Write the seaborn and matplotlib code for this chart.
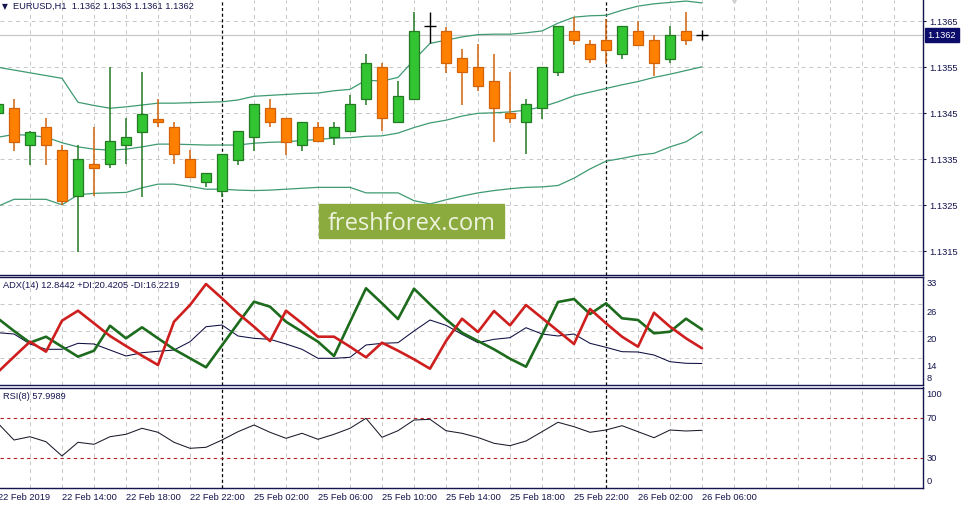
import matplotlib
matplotlib.use("Agg")
import matplotlib.pyplot as plt
from matplotlib.patches import Rectangle
import numpy as np
import pandas as pd
import seaborn as sns

# EURUSD H1, bars from 22 Feb 10:00 to 26 Feb 06:00
open_ = [1.13450, 1.13461, 1.13380, 1.13420, 1.13370, 1.13270, 1.13339, 1.13339, 1.13380, 1.13410,
         1.13438, 1.13420, 1.13350, 1.13300, 1.13280, 1.13349, 1.13399, 1.13461, 1.13439, 1.13380,
         1.13420, 1.13399, 1.13411, 1.13480, 1.13550, 1.13430, 1.13480, 1.13640, 1.13628, 1.13570,
         1.13550, 1.13520, 1.13450, 1.13430, 1.13461, 1.13539, 1.13628, 1.13600, 1.13609, 1.13578,
         1.13628, 1.13609, 1.13569, 1.13628, 1.13620]
high = [1.13475, 1.13481, 1.13412, 1.13439, 1.13380, 1.13380, 1.13420, 1.13550, 1.13439, 1.13539,
        1.13481, 1.13430, 1.13370, 1.13320, 1.13361, 1.13412, 1.13470, 1.13481, 1.13439, 1.13430,
        1.13430, 1.13430, 1.13490, 1.13579, 1.13560, 1.13520, 1.13670, 1.13670, 1.13638, 1.13589,
        1.13601, 1.13579, 1.13540, 1.13481, 1.13550, 1.13639, 1.13659, 1.13609, 1.13655, 1.13639,
        1.13651, 1.13621, 1.13639, 1.13670, 1.13630]
low = [1.13446, 1.13369, 1.13338, 1.13338, 1.13251, 1.13149, 1.13270, 1.13330, 1.13339, 1.13269,
       1.13420, 1.13339, 1.13311, 1.13290, 1.13269, 1.13338, 1.13369, 1.13420, 1.13359, 1.13369,
       1.13389, 1.13380, 1.13411, 1.13469, 1.13411, 1.13430, 1.13480, 1.13602, 1.13538, 1.13468,
       1.13499, 1.13388, 1.13428, 1.13361, 1.13438, 1.13530, 1.13599, 1.13559, 1.13557, 1.13569,
       1.13599, 1.13530, 1.13559, 1.13599, 1.13610]
close = [1.13470, 1.13388, 1.13410, 1.13380, 1.13260, 1.13350, 1.13330, 1.13389, 1.13399, 1.13449,
         1.13430, 1.13361, 1.13311, 1.13320, 1.13361, 1.13411, 1.13470, 1.13430, 1.13388, 1.13430,
         1.13389, 1.13420, 1.13470, 1.13559, 1.13439, 1.13488, 1.13628, 1.13640, 1.13559, 1.13539,
         1.13509, 1.13461, 1.13439, 1.13470, 1.13550, 1.13639, 1.13609, 1.13569, 1.13588, 1.13639,
         1.13599, 1.13559, 1.13620, 1.13609, 1.13620]

bb_upper = [1.13550, 1.13544, 1.13538, 1.13532, 1.13526, 1.13474, 1.13467, 1.13461, 1.13464, 1.13468,
            1.13472, 1.13472, 1.13473, 1.13474, 1.13475, 1.13479, 1.13487, 1.13489, 1.13491, 1.13493,
            1.13494, 1.13499, 1.13502, 1.13522, 1.13520, 1.13528, 1.13566, 1.13602, 1.13609, 1.13616,
            1.13621, 1.13622, 1.13622, 1.13625, 1.13629, 1.13646, 1.13659, 1.13662, 1.13663, 1.13674,
            1.13683, 1.13688, 1.13691, 1.13694, 1.13690]
bb_middle = [1.13398, 1.13404, 1.13402, 1.13398, 1.13386, 1.13377, 1.13372, 1.13370, 1.13372, 1.13377,
             1.13383, 1.13383, 1.13382, 1.13381, 1.13381, 1.13381, 1.13385, 1.13387, 1.13388, 1.13391,
             1.13393, 1.13396, 1.13397, 1.13400, 1.13401, 1.13407, 1.13419, 1.13429, 1.13435, 1.13444,
             1.13450, 1.13451, 1.13453, 1.13457, 1.13464, 1.13475, 1.13488, 1.13496, 1.13504, 1.13512,
             1.13519, 1.13528, 1.13535, 1.13543, 1.13551]
bb_lower = [1.13248, 1.13263, 1.13263, 1.13263, 1.13251, 1.13273, 1.13276, 1.13277, 1.13278, 1.13288,
            1.13296, 1.13296, 1.13291, 1.13285, 1.13285, 1.13283, 1.13282, 1.13283, 1.13285, 1.13287,
            1.13289, 1.13289, 1.13289, 1.13277, 1.13277, 1.13277, 1.13260, 1.13253, 1.13262, 1.13270,
            1.13277, 1.13282, 1.13286, 1.13289, 1.13290, 1.13293, 1.13309, 1.13329, 1.13346, 1.13352,
            1.13359, 1.13363, 1.13377, 1.13388, 1.13410]

adx = [19.69, 19.40, 17.18, 16.00, 16.00, 17.33, 17.18, 15.84, 14.51, 15.24,
       15.56, 15.84, 17.69, 21.02, 21.40, 18.96, 18.44, 18.22, 17.18, 16.00,
       14.00, 14.00, 14.22, 16.96, 17.33, 17.47, 20.07, 22.51, 21.33, 19.33,
       17.47, 18.22, 18.58, 20.80, 19.40, 18.96, 19.40, 17.33, 16.44, 15.47,
       15.40, 14.73, 13.24, 12.89, 12.8442]
plus_di = [22.84, 20.07, 17.47, 18.80, 16.58, 14.36, 15.69, 21.24, 18.44, 20.89,
           18.44, 16.00, 14.00, 12.00, 16.89, 21.78, 26.58, 25.47, 22.13, 19.91,
           17.69, 14.51, 22.07, 29.56, 26.22, 22.73, 29.47, 26.00, 22.67, 19.69,
           17.84, 16.00, 13.91, 12.13, 19.18, 26.51, 27.18, 23.84, 26.22, 22.89,
           22.51, 19.56, 19.91, 22.80, 20.4205]
minus_di = [10.96, 14.36, 17.69, 15.47, 22.36, 24.58, 21.78, 18.96, 16.73, 14.58,
            12.51, 22.13, 25.84, 30.51, 27.33, 24.00, 21.02, 17.84, 24.58, 21.78,
            18.80, 18.80, 16.58, 14.22, 17.47, 15.69, 13.78, 11.69, 17.84, 22.80,
            19.84, 24.51, 21.33, 25.84, 22.96, 20.07, 17.18, 24.96, 21.78, 18.80,
            16.58, 24.13, 21.02, 18.44, 16.2219]
rsi = [65.0, 48.3, 51.6, 46.6, 32.3, 46.0, 44.0, 51.6, 54.0, 60.0,
       56.0, 46.0, 40.0, 41.0, 48.3, 56.6, 63.3, 56.0, 50.0, 55.0,
       49.0, 54.0, 60.0, 70.0, 51.0, 57.6, 68.3, 69.0, 57.6, 55.0,
       50.8, 45.0, 42.6, 47.3, 56.6, 66.0, 61.6, 56.0, 58.3, 62.6,
       56.6, 50.6, 58.3, 57.3, 57.9989]

price_ticks = [1.1315, 1.1325, 1.1335, 1.1345, 1.1355, 1.1365]
adx_grid = [14, 20, 26]
rsi_levels = [70, 30]

times = pd.date_range("2019-02-22 10:00", periods=14, freq="h").append(
    pd.date_range("2019-02-25 00:00", periods=31, freq="h"))

NAVY = "#14144e"
GRID = "#c6c6c6"
BULL, BULL_EDGE = "#33c433", "#237a23"
BEAR, BEAR_EDGE = "#ff8000", "#d2620a"
BAND = "#3f9a72"

W, H = 965, 509
sns.set_style("white")
plt.rcParams["font.family"] = ["Liberation Sans", "DejaVu Sans"]
plt.rcParams["font.size"] = 6.7

fig = plt.figure(figsize=(W / 100, H / 100), dpi=100)


def px_axes(top, bottom, right=922.5):
    return fig.add_axes([0, 1 - bottom / H, right / W, (bottom - top) / H])


ax_main = px_axes(0, 274.5)
ax_adx = px_axes(276.5, 385.3)
ax_rsi = px_axes(387.5, 488)

bars = np.arange(len(close))
df = pd.DataFrame({"bar": bars, "open": open_, "high": high,
                   "low": low, "close": close})
separators = [i for i, t in enumerate(times) if t.hour == 0 and i > 0]
grid_bars = [b for b in range(2, 58, 2) if b not in separators]

for ax in (ax_main, ax_adx, ax_rsi):
    ax.set_facecolor("white")
    ax.set_xlim(0.125, 57.78)
    ax.set_xticks(grid_bars)
    ax.tick_params(axis="x", length=0, labelbottom=False)
    ax.grid(True, axis="x", color=GRID, ls=(0, (4, 4)), lw=0.7)
    ax.set_axisbelow(True)
    for s in ("left",):
        ax.spines[s].set_visible(False)
    for s in ("right", "bottom", "top"):
        ax.spines[s].set_color(NAVY)
        ax.spines[s].set_linewidth(1.0)
    for sep in separators:
        ax.axvline(sep, color="black", lw=0.9, ls=(0, (2.5, 2)), zorder=1)
ax_main.spines["top"].set_visible(False)

# --- price panel
ax = ax_main
ax.set_ylim(1.136963 - 274.5 / 46000, 1.136963)
ax.set_yticks(price_ticks)
ax.set_yticklabels([f"{p:.4f}" for p in price_ticks])
ax.yaxis.tick_right()
ax.tick_params(axis="y", length=2.5, width=0.8, color=NAVY,
               labelcolor=NAVY, labelsize=6.7, pad=2)
ax.grid(True, axis="y", color=GRID, ls=(0, (4, 4)), lw=0.7)
ax.axhline(close[-1], color="#c8c8c8", lw=0.9, zorder=1)

for band in (bb_upper, bb_middle, bb_lower):
    sns.lineplot(x=bars, y=band, ax=ax, color=BAND, lw=0.9, zorder=2)

up = df[df.close > df.open]
down = df[df.close < df.open]
doji = df[df.close == df.open]
for d, fill, edge in ((up, BULL, BULL_EDGE), (down, BEAR, BEAR_EDGE)):
    ax.vlines(d.bar, d.low, d.high, color=edge, lw=1.1, zorder=3)
    ax.bar(d.bar, (d.close - d.open).abs(), bottom=np.minimum(d.open, d.close),
           width=0.62, color=fill, edgecolor=edge, lw=0.9, zorder=4)
ax.vlines(doji.bar, doji.low, doji.high, color="black", lw=1.0, zorder=4)
ax.hlines(doji.open, doji.bar - 0.36, doji.bar + 0.36, color="black", lw=1.0, zorder=4)
ax.plot(46, ax.get_ylim()[1], marker="v", ms=4, color="#d0d0d0", clip_on=False, zorder=5)
ax.set_xlabel("")
ax.set_ylabel("")

ax.annotate(f"{close[-1]:.4f}", xy=(1, close[-1]), xycoords=("axes fraction", "data"),
            xytext=(5, 0), textcoords="offset pixels", va="center", ha="left",
            color="white", fontsize=6.7,
            bbox=dict(boxstyle="square,pad=0.3", fc="#0c0c6a", ec="#0c0c6a"))

# --- ADX panel
ax = ax_adx
ax.set_ylim(8.0, 32.18)
ax.set_yticks(adx_grid)
ax.tick_params(axis="y", length=0, labelleft=False, labelright=False)
ax.grid(True, axis="y", color=GRID, ls=(0, (4, 4)), lw=0.7)
sns.lineplot(x=bars, y=adx, ax=ax, color="#0c0c40", lw=0.75)
sns.lineplot(x=bars, y=plus_di, ax=ax, color="#1d6b1d", lw=1.9)
sns.lineplot(x=bars, y=minus_di, ax=ax, color="#cf1e1e", lw=1.9)
ax.set_xlabel("")
ax.set_ylabel("")
for v in adx_grid:
    ax.annotate(str(v), xy=(1, v), xycoords=("axes fraction", "data"),
                xytext=(4, -8), textcoords="offset pixels", va="center", color=NAVY)
ax.annotate("33", xy=(1, 1), xycoords="axes fraction", xytext=(4, -7),
            textcoords="offset pixels", va="center", color=NAVY)
ax.annotate("8", xy=(1, 0), xycoords="axes fraction", xytext=(4, 6.5),
            textcoords="offset pixels", va="center", color=NAVY)

# --- RSI panel
ax = ax_rsi
ax.set_ylim(0.3, 100.8)
ax.set_yticks([])
for lv in rsi_levels:
    ax.axhline(lv, color="#b42222", lw=0.8, ls=(0, (3, 3)), zorder=1)
sns.lineplot(x=bars, y=rsi, ax=ax, color="#1a1a2a", lw=0.75)
ax.set_xlabel("")
ax.set_ylabel("")
ax.annotate("100", xy=(1, 1), xycoords="axes fraction", xytext=(4, -7),
            textcoords="offset pixels", va="center", color=NAVY)
for lv in rsi_levels:
    ax.annotate(str(lv), xy=(1, lv), xycoords=("axes fraction", "data"),
                xytext=(4, 0), textcoords="offset pixels", va="center", color=NAVY)
ax.annotate("0", xy=(1, 0), xycoords="axes fraction", xytext=(4, 6.5),
            textcoords="offset pixels", va="center", color=NAVY)

for i in range(0, len(times), 4):
    t = times[i]
    label = f"{t:%d %b %Y}" if i == 0 else f"{t:%d %b %H:%M}"
    ax.annotate(label, xy=(i, 0), xycoords=("data", "axes fraction"),
                xytext=(0, -9.5), textcoords="offset pixels",
                va="center", ha="left", color=NAVY, annotation_clip=False)

# --- headers
def fx(x):
    return x / W


def fy(y):
    return 1 - y / H


fig.text(fx(2), fy(6.5), "\u25bc", fontsize=5.5, family="DejaVu Sans",
         color=NAVY, va="center")
fig.text(fx(13), fy(6), f"EURUSD,H1  {open_[-1]:.4f} {high[-1]:.4f} "
         f"{low[-1]:.4f} {close[-1]:.4f}", color=NAVY, va="center")
fig.text(fx(3), fy(285.5), f"ADX(14) {adx[-1]:.4f} +DI:{plus_di[-1]:.4f} "
         f"-DI:{minus_di[-1]:.4f}", color=NAVY, va="center")
fig.text(fx(3), fy(396.5), f"RSI(8) {rsi[-1]:.4f}", color=NAVY, va="center")

# watermark
fig.patches.append(Rectangle((fx(318.5), fy(237.7)), 185.2 / W, 33.7 / H,
                             transform=fig.transFigure, color="#8cab3e", zorder=2))
fig.text(fx(411.5), fy(230.5), "freshforex.com", fontsize=17, family="Open Sans",
         color="#eef3e0", ha="center", va="baseline", zorder=3)

fig.savefig("out.png", dpi=100, facecolor="white")
